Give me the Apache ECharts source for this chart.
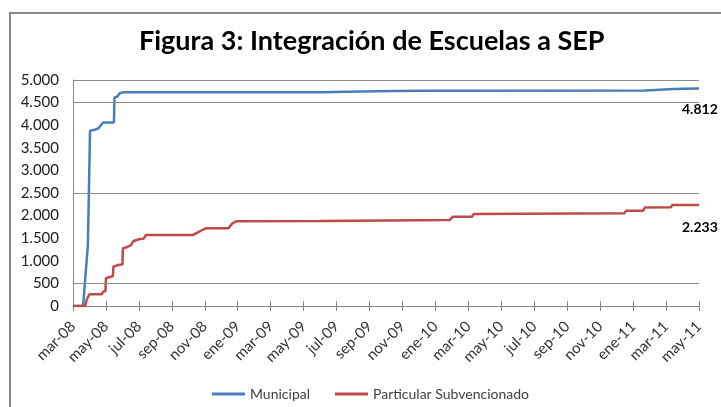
<!DOCTYPE html>
<html>
<head>
<meta charset="utf-8">
<script src="https://cdn.jsdelivr.net/npm/echarts@6/dist/echarts.min.js"></script>
<style>html,body{margin:0;padding:0;background:#fff}#c{width:721px;height:407px}</style>
</head>
<body>
<div id="c"></div>
<script>
const titleText = 'Figura 3: Integración de Escuelas a SEP';
const seriesNames = ['Municipal', 'Particular Subvencionado'];
const tickLabels = ['mar-08','may-08','jul-08','sep-08','nov-08','ene-09','mar-09','may-09','jul-09','sep-09','nov-09','ene-10','mar-10','may-10','jul-10','sep-10','nov-10','ene-11','mar-11','may-11'];
const gridValues = [500, 2500, 4500, 5000];

const municipalDates = ['2008-03-01','2008-03-20','2008-03-29','2008-04-01','2008-04-02','2008-04-11','2008-04-17','2008-04-20','2008-04-26','2008-05-16','2008-05-17','2008-05-23','2008-05-26','2008-06-02','2009-06-01','2009-08-15','2009-10-15','2009-12-15','2011-01-24','2011-01-26','2011-03-15','2011-03-17','2011-05-01'];
const municipalValues = [0,0,1350,1380,3878,3900,3930,3970,4060,4060,4608,4640,4700,4727,4730,4745,4755,4762,4765,4794,4800,4812,4812];

const particularDates = ['2008-03-01','2008-03-24','2008-03-27','2008-04-01','2008-04-23','2008-04-26','2008-04-30','2008-05-01','2008-05-10','2008-05-14','2008-05-15','2008-05-24','2008-06-01','2008-06-02','2008-06-09','2008-06-17','2008-06-21','2008-07-03','2008-07-10','2008-07-14','2008-10-09','2008-10-18','2008-10-27','2008-11-03','2008-12-14','2008-12-22','2008-12-29','2009-06-01','2009-10-01','2010-01-28','2010-02-03','2010-03-08','2010-03-11','2010-12-15','2010-12-19','2011-01-20','2011-01-23','2011-03-10','2011-03-13','2011-05-01'];
const particularValues = [0,0,150,260,260,316,330,613,648,660,870,907,920,1276,1300,1350,1438,1482,1490,1570,1570,1622,1681,1718,1718,1829,1873,1880,1892,1903,1976,1976,2035,2050,2108,2110,2180,2185,2233,2233];

function monthPos(s) {
  const [y, m, d] = s.split('-').map(Number);
  const dim = new Date(y, m, 0).getDate();
  return (y - 2008) * 12 + (m - 3) + (d - 1) / dim;
}
function fmt(v) {
  return String(Math.round(v)).replace(/\B(?=(\d{3})+(?!\d))/g, '.');
}
function pairs(dates, vals) { return dates.map((d, i) => [monthPos(d), vals[i]]); }

const FONT = 'Lato, "Liberation Sans", sans-serif';
const chart = echarts.init(document.getElementById('c'));
chart.setOption({
  animation: false,
  backgroundColor: '#fff',
  textStyle: { fontFamily: FONT },
  title: {
    text: titleText, left: 134, top: 23,
    textStyle: { fontFamily: FONT, fontWeight: 'bold', fontSize: 27, color: '#000' }
  },
  graphic: [{
    type: 'rect', silent: true, z: -1,
    shape: { x: 10, y: 13, width: 760, height: 460 },
    style: { fill: null, stroke: '#8a8a8a', lineWidth: 2 }
  }],
  legend: {
    data: seriesNames, left: 207, top: 382, icon: 'rect', itemWidth: 33, itemHeight: 3, itemGap: 25,
    textStyle: { fontFamily: FONT, fontSize: 14, color: '#404040' }
  },
  grid: { left: 73, right: 22, top: 80, bottom: 101, containLabel: false },
  xAxis: [{
    type: 'value', min: 0, max: 38, interval: 2,
    axisLine: { show: true, lineStyle: { color: '#868686', width: 1 } },
    axisTick: { show: true, inside: false, length: 5, lineStyle: { color: '#868686' } },
    splitLine: { show: false },
    axisLabel: { rotate: 45, fontSize: 15, color: '#333', margin: 18, formatter: v => tickLabels[Math.round(v / 2)] }
  }, {
    type: 'value', min: 0, max: 38, interval: 2, position: 'bottom',
    axisLine: { show: false },
    axisTick: { show: true, inside: true, length: 5, lineStyle: { color: '#868686' } },
    splitLine: { show: false }, axisLabel: { show: false }
  }],
  yAxis: {
    type: 'value', min: 0, max: 5000, interval: 500,
    axisLine: { show: true, lineStyle: { color: '#868686', width: 1 } },
    axisTick: { show: false },
    splitLine: { show: false },
    axisLabel: { fontSize: 15, color: '#202020', margin: 14, formatter: v => fmt(v) }
  },
  series: [{
    name: seriesNames[0], type: 'line', xAxisIndex: 0, showSymbol: false, symbol: 'none',
    data: pairs(municipalDates, municipalValues),
    lineStyle: { color: '#4A7EBB', width: 2.5 }, itemStyle: { color: '#4A7EBB' },
    endLabel: { show: true, formatter: p => fmt(p.value[1]), offset: [-25, 21], fontFamily: FONT, fontWeight: 'bold', fontSize: 14, color: '#000' },
    markLine: {
      silent: true, symbol: 'none', label: { show: false },
      lineStyle: { color: '#8c8c8c', width: 1, type: 'solid' },
      data: gridValues.map(v => ({ yAxis: v }))
    },
    z: 3
  }, {
    name: seriesNames[1], type: 'line', xAxisIndex: 0, showSymbol: false, symbol: 'none',
    data: pairs(particularDates, particularValues),
    lineStyle: { color: '#BE4B48', width: 2.5 }, itemStyle: { color: '#BE4B48' },
    endLabel: { show: true, formatter: p => fmt(p.value[1]), offset: [-25, 22], fontFamily: FONT, fontWeight: 'bold', fontSize: 14, color: '#000' },
    z: 3
  }]
});
</script>
</body>
</html>
